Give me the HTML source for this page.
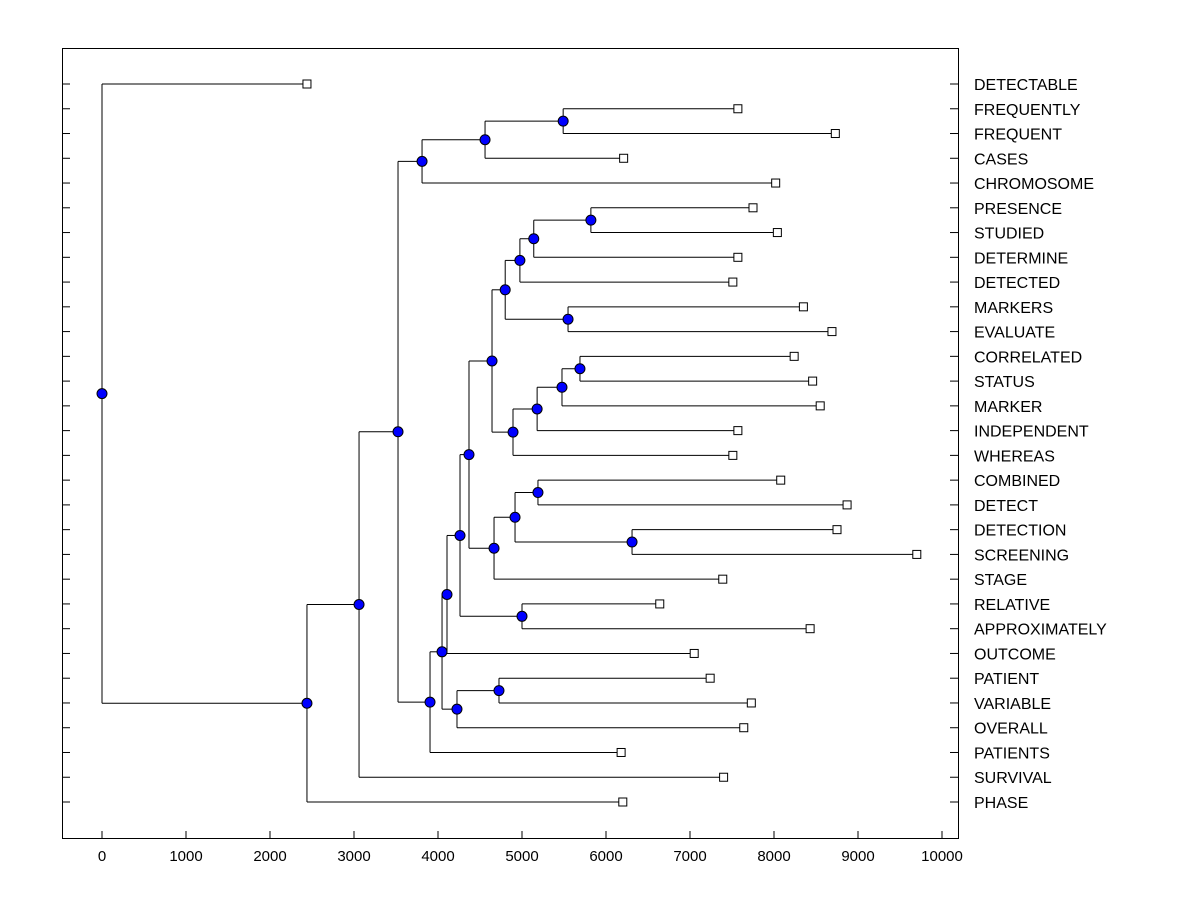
<!DOCTYPE html>
<html><head><meta charset="utf-8">
<style>
html,body{margin:0;padding:0;background:#fff;}
svg{display:block;font-family:"Liberation Sans",Arial,sans-serif;}
</style></head>
<body>
<svg id="chart" width="1200" height="900"></svg>
<script>
const leafNames = ["DETECTABLE","FREQUENTLY","FREQUENT","CASES","CHROMOSOME","PRESENCE","STUDIED","DETERMINE","DETECTED","MARKERS","EVALUATE","CORRELATED","STATUS","MARKER","INDEPENDENT","WHEREAS","COMBINED","DETECT","DETECTION","SCREENING","STAGE","RELATIVE","APPROXIMATELY","OUTCOME","PATIENT","VARIABLE","OVERALL","PATIENTS","SURVIVAL","PHASE"];
const leafValues = [2440,7570,8730,6210,8020,7750,8040,7570,7510,8350,8690,8240,8460,8550,7570,7510,8080,8870,8750,9700,7390,6640,8430,7050,7240,7730,7640,6180,7400,6200];
// merges: [id, left, right, height]
const merges = [
 ["G","FREQUENTLY","FREQUENT",5490],
 ["F","G","CASES",4560],
 ["D","F","CHROMOSOME",3810],
 ["W","PRESENCE","STUDIED",5820],
 ["V","W","DETERMINE",5140],
 ["T","V","DETECTED",4975],
 ["U","MARKERS","EVALUATE",5548],
 ["R","T","U",4800],
 ["Z","CORRELATED","STATUS",5690],
 ["Y","Z","MARKER",5476],
 ["X","Y","INDEPENDENT",5180],
 ["S","X","WHEREAS",4893],
 ["P","R","S",4643],
 ["BB","COMBINED","DETECT",5190],
 ["CC","DETECTION","SCREENING",6310],
 ["AA","BB","CC",4917],
 ["Q","AA","STAGE",4667],
 ["N","P","Q",4369],
 ["O","RELATIVE","APPROXIMATELY",5000],
 ["L","N","O",4262],
 ["I","L","OUTCOME",4107],
 ["M","PATIENT","VARIABLE",4726],
 ["K","M","OVERALL",4226],
 ["H","I","K",4048],
 ["E","H","PATIENTS",3905],
 ["C","D","E",3524],
 ["B","C","SURVIVAL",3060],
 ["A","B","PHASE",2440],
 ["ROOT","DETECTABLE","A",0]
];
const xTicks = [0,1000,2000,3000,4000,5000,6000,7000,8000,9000,10000];

const NS="http://www.w3.org/2000/svg";
const svg=document.getElementById('chart');
const X0=102, PX=0.084, Y0=84, DY=(802-84)/29;
const xs=v=>X0+v*PX;
const ys=i=>Y0+i*DY;
function mk(t,a,p){const e=document.createElementNS(NS,t);for(const k in a)e.setAttribute(k,a[k]);(p||svg).appendChild(e);return e;}

const frame=mk('rect',{x:62.5,y:48.5,width:896,height:790,fill:'none',stroke:'#000','stroke-width':1});



const pos={};
leafNames.forEach((n,i)=>{pos[n]={x:xs(leafValues[i]),y:ys(i)};});
merges.forEach(m=>{pos[m[0]]={x:xs(m[3]),y:(pos[m[1]].y+pos[m[2]].y)/2};});

leafNames.forEach((n,i)=>{
  const t=mk('line',{x1:62,x2:70,y1:ys(i),y2:ys(i),stroke:'#000'});
  
  
  const r=mk('line',{x1:950,x2:958,y1:ys(i),y2:ys(i),stroke:'#000'});
  
  
  const lb=mk('text',{x:974,y:ys(i)+6,'font-size':16,fill:'#000'});
  lb.textContent=n;
  
  
});
xTicks.forEach(v=>{
  const t=mk('line',{x1:xs(v),x2:xs(v),y1:831,y2:838,stroke:'#000'});
  
  
  const lb=mk('text',{x:xs(v),y:861,'font-size':15,'text-anchor':'middle'});
  lb.textContent=v;
  
  
});

const g=mk('g',{stroke:'#000','stroke-width':1,fill:'none'});
merges.forEach(m=>{
  const p=pos[m[0]],a=pos[m[1]],b=pos[m[2]];
  const v=mk('line',{x1:p.x,x2:p.x,y1:a.y,y2:b.y},g);
  
  
  [a,b].forEach(c=>{
    const h=mk('line',{x1:p.x,x2:c.x,y1:c.y,y2:c.y},g);
    
    
  });
});
leafNames.forEach(n=>{
  const p=pos[n];
  const s=mk('rect',{x:p.x-4,y:p.y-4,width:8,height:8,fill:'#fff',stroke:'#000'});
  
  
});
merges.forEach(m=>{
  const p=pos[m[0]];
  const c=mk('circle',{cx:p.x,cy:p.y,r:5,fill:'#0000ff',stroke:'#000'});
  
  
});
</script>
</body></html>
